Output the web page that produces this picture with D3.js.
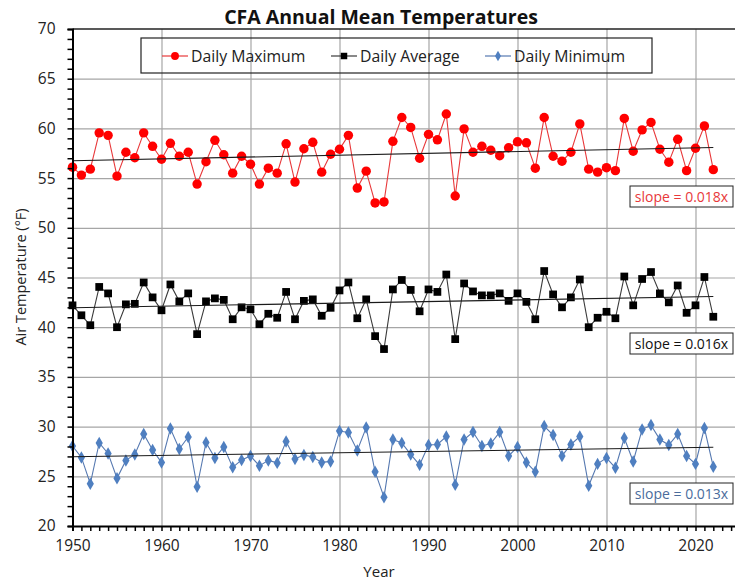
<!DOCTYPE html>
<html>
<head>
<meta charset="utf-8">
<script src="https://cdn.jsdelivr.net/npm/d3@7"></script>
<style>
  body { margin: 0; background: #fff; }
  text { font-family: "Open Sans", sans-serif; }
</style>
</head>
<body>
<script>
(function () {
    'use strict';

    const width = 735;
    const height = 583;

    const years = d3.range(1950, 2023);

    const dailyMax = [
        56.1, 55.3, 55.9, 59.55, 59.3, 55.2, 57.6, 57.05, 59.55, 58.2,
        56.9, 58.5, 57.2, 57.6, 54.4, 56.65, 58.8, 57.35, 55.5, 57.2,
        56.4, 54.4, 56.0, 55.5, 58.45, 54.6, 57.95, 58.6, 55.6, 57.4,
        57.9, 59.3, 54.0, 55.7, 52.5, 52.6, 58.7, 61.1, 60.1, 57.0,
        59.4, 58.85, 61.45, 53.2, 59.95, 57.6, 58.2, 57.8, 57.25, 58.05,
        58.65, 58.55, 56.0, 61.1, 57.2, 56.7, 57.6, 60.45, 55.9, 55.6,
        56.05, 55.75, 61.0, 57.7, 59.85, 60.6, 57.9, 56.6, 58.9, 55.75,
        58.0, 60.25, 55.85
    ];

    const dailyAvg = [
        42.2, 41.2, 40.2, 44.05, 43.4, 40.0, 42.3, 42.35, 44.5, 43.0,
        41.7, 44.3, 42.6, 43.4, 39.3, 42.6, 42.9, 42.75, 40.8, 42.0,
        41.8, 40.3, 41.35, 40.95, 43.55, 40.8, 42.65, 42.8, 41.15, 41.95,
        43.7, 44.5, 40.9, 42.8, 39.1, 37.8, 43.8, 44.75, 43.75, 41.6,
        43.8, 43.55, 45.3, 38.8, 44.4, 43.6, 43.2, 43.2, 43.4, 42.65,
        43.4, 42.55, 40.8, 45.65, 43.3, 42.0, 43.0, 44.8, 40.0, 40.95,
        41.55, 40.9, 45.1, 42.2, 44.85, 45.55, 43.4, 42.5, 44.2, 41.45,
        42.2, 45.05, 41.05
    ];

    const dailyMin = [
        28.05, 26.9, 24.25, 28.35, 27.3, 24.8, 26.6, 27.2, 29.25, 27.65,
        26.4, 29.8, 27.75, 28.95, 23.95, 28.4, 26.85, 27.95, 25.9, 26.65,
        27.05, 26.05, 26.6, 26.35, 28.5, 26.75, 27.15, 26.95, 26.4, 26.5,
        29.55, 29.4, 27.6, 29.9, 25.45, 22.9, 28.7, 28.35, 27.2, 26.15,
        28.15, 28.2, 29.0, 24.15, 28.7, 29.45, 28.05, 28.3, 29.45, 27.05,
        27.95, 26.4, 25.45, 30.05, 29.15, 27.05, 28.2, 29.0, 24.05, 26.25,
        26.85, 25.85, 28.85, 26.5, 29.7, 30.15, 28.7, 28.15, 29.25, 27.05,
        26.25, 29.85, 25.95
    ];

    const seriesNames = ['Daily Maximum', 'Daily Average', 'Daily Minimum'];
    const slopeLabels = ['slope = 0.018x', 'slope = 0.016x', 'slope = 0.013x'];
    const yTicks = [20, 25, 30, 35, 40, 45, 50, 55, 60, 65, 70];
    const xTicks = [1950, 1960, 1970, 1980, 1990, 2000, 2010, 2020];

    const series = [
        {name: seriesNames[0], values: dailyMax, line: '#e8383a', fill: '#ff0000', shape: d3.symbolCircle, size: 70, text: '#e8383a', labelY: 197},
        {name: seriesNames[1], values: dailyAvg, line: '#3a3a3a', fill: '#000000', shape: d3.symbolSquare, size: 60, text: '#111111', labelY: 344},
        {name: seriesNames[2], values: dailyMin, line: '#5578b0', fill: '#4f7fc0', shape: d3.symbolDiamond, size: 45, text: '#4a6c9c', labelY: 494}
    ];
    series.forEach((s, i) => { s.slope = slopeLabels[i]; });

    const x = d3.scaleLinear().domain([1950, 2025]).range([72.5, 740]);
    const y = d3.scaleLinear().domain([20, 70]).range([526, 29]);

    const svg = d3.select('body')
        .append('svg')
        .attr('width', width)
        .attr('height', height);

    // grid
    svg.append('g')
        .attr('transform', 'translate(0,526)')
        .call(d3.axisBottom(x).tickValues(xTicks.slice(1)).tickSize(-497).tickFormat(''))
        .call(g => g.select('.domain').remove())
        .call(g => g.selectAll('line').attr('stroke', '#a6a6a6').attr('stroke-width', 1.2));

    svg.append('g')
        .attr('transform', 'translate(72.5,0)')
        .call(d3.axisLeft(y).tickValues(yTicks.slice(1, -1)).tickSize(-680).tickFormat(''))
        .call(g => g.select('.domain').remove())
        .call(g => g.selectAll('line').attr('stroke', '#a6a6a6').attr('stroke-width', 1.2));

    svg.append('line')
        .attr('x1', 72.5).attr('x2', width)
        .attr('y1', y(70)).attr('y2', y(70))
        .attr('stroke', '#222').attr('stroke-width', 1.6);

    // legend
    const legend = svg.append('g');
    legend.append('rect')
        .attr('x', 141).attr('y', 38).attr('width', 511).attr('height', 35)
        .attr('fill', 'none').attr('stroke', '#222').attr('stroke-width', 1.2);
    const legendX = [162, 331, 485];
    series.forEach((s, i) => {
        const lx = legendX[i];
        legend.append('line')
            .attr('x1', lx).attr('x2', lx + 26).attr('y1', 56).attr('y2', 56)
            .attr('stroke', s.line).attr('stroke-width', 1.2);
        legend.append('path')
            .attr('d', d3.symbol().type(s.shape).size(s.size * 0.7)())
            .attr('transform', `translate(${lx + 13},56)`)
            .attr('fill', s.fill);
        legend.append('text')
            .attr('x', lx + 29).attr('y', 61.5)
            .attr('font-size', 15.8).attr('fill', '#222')
            .text(s.name);
    });

    // series
    const line = d3.line().x((d, i) => x(years[i])).y(d => y(d));
    series.forEach(s => {
        svg.append('path')
            .datum(s.values)
            .attr('d', line)
            .attr('fill', 'none')
            .attr('stroke', s.line)
            .attr('stroke-width', 1.1);

        svg.append('g').selectAll('path')
            .data(s.values)
            .enter().append('path')
            .attr('d', d3.symbol().type(s.shape).size(s.size)())
            .attr('transform', (d, i) => `translate(${x(years[i])},${y(d)})`)
            .attr('fill', s.fill);

        // least squares trend
        const mx = d3.mean(years);
        const my = d3.mean(s.values);
        const b = d3.sum(years, (yr, i) => (yr - mx) * (s.values[i] - my)) /
                  d3.sum(years, yr => (yr - mx) * (yr - mx));
        const a = my - b * mx;
        svg.append('line')
            .attr('x1', x(1950)).attr('x2', x(2022))
            .attr('y1', y(a + b * 1950)).attr('y2', y(a + b * 2022))
            .attr('stroke', '#1a1a1a').attr('stroke-width', 1.1);
    });

    // slope boxes
    series.forEach(s => {
        svg.append('rect')
            .attr('x', 630).attr('y', s.labelY - 11).attr('width', 103).attr('height', 21)
            .attr('fill', '#fff').attr('stroke', '#222').attr('stroke-width', 1);
        svg.append('text')
            .attr('x', 681.5).attr('y', s.labelY + 5)
            .attr('text-anchor', 'middle')
            .attr('font-size', 14).attr('fill', s.text)
            .text(s.slope);
    });

    // axes
    svg.append('g')
        .attr('transform', 'translate(0,526)')
        .call(d3.axisBottom(x).tickValues(d3.range(1950, 2025)).tickSize(5).tickFormat(''))
        .call(g => g.select('.domain').attr('stroke', '#000').attr('stroke-width', 2))
        .call(g => g.selectAll('line').attr('stroke', '#000').attr('stroke-width', 1.5));

    svg.append('g')
        .attr('transform', 'translate(0,526)')
        .call(d3.axisBottom(x).tickValues(xTicks).tickSize(0).tickPadding(14).tickFormat(d3.format('d')))
        .call(g => g.select('.domain').remove())
        .call(g => g.selectAll('text').attr('font-size', 15.5).attr('fill', '#222')
            .style('font-family', '"Open Sans", sans-serif'));

    svg.append('g')
        .attr('transform', 'translate(72.5,0)')
        .call(d3.axisLeft(y).tickValues(d3.range(20, 71)).tickSize(5).tickFormat(''))
        .call(g => g.select('.domain').attr('stroke', '#000').attr('stroke-width', 2))
        .call(g => g.selectAll('line').attr('stroke', '#000').attr('stroke-width', 1.5));

    svg.append('g')
        .attr('transform', 'translate(72.5,0)')
        .call(d3.axisLeft(y).tickValues(yTicks).tickSize(0).tickPadding(17))
        .call(g => g.select('.domain').remove())
        .call(g => g.selectAll('text').attr('font-size', 15.5).attr('fill', '#222')
            .style('font-family', '"Open Sans", sans-serif'));

    // titles
    svg.append('text')
        .attr('x', 381).attr('y', 24)
        .attr('text-anchor', 'middle')
        .attr('font-size', 19.5).attr('font-weight', 'bold').attr('fill', '#111')
        .text('CFA Annual Mean Temperatures');

    svg.append('text')
        .attr('transform', 'translate(26,277) rotate(-90)')
        .attr('text-anchor', 'middle')
        .attr('font-size', 14.5).attr('fill', '#222')
        .text('Air Temperature (°F)');

    svg.append('text')
        .attr('x', 379).attr('y', 577)
        .attr('text-anchor', 'middle')
        .attr('font-size', 15).attr('fill', '#222')
        .text('Year');
}());
</script>
</body>
</html>
